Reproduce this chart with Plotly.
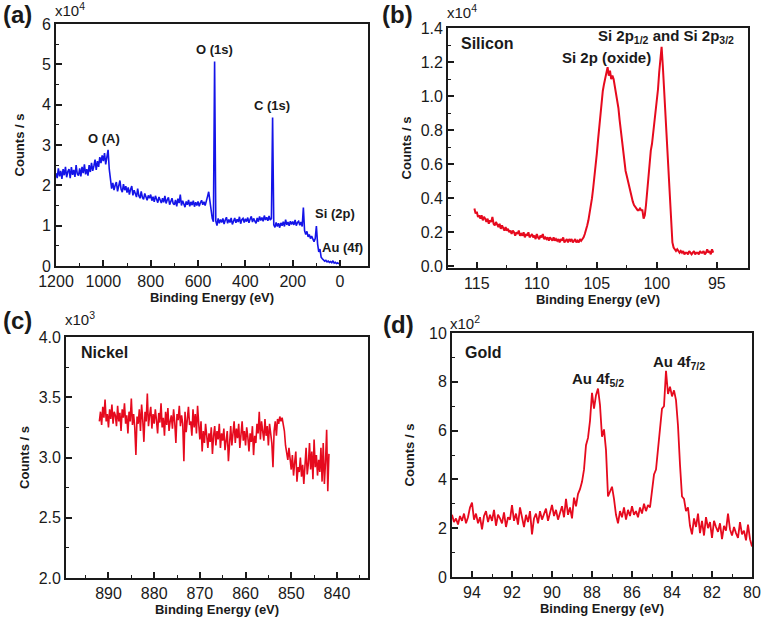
import numpy as np
import plotly.graph_objects as go

# ---------------- DATA ----------------
# (a) survey spectrum, Binding Energy from 1200 eV down in 5 eV steps, counts in units of 1e4
survey_start, survey_step = 1200.0, 5.0
survey_counts_e4 = [
    2.30, 2.18, 2.42, 2.22, 2.36, 2.16, 2.40, 2.25, 2.46, 2.20,
    2.34, 2.40, 2.18, 2.45, 2.26, 2.38, 2.21, 2.50, 2.28, 2.24,
    2.42, 2.22, 2.46, 2.30, 2.52, 2.27, 2.40, 2.24, 2.50, 2.33,
    2.56, 2.36, 2.48, 2.64, 2.38, 2.60, 2.46, 2.70, 2.55, 2.74,
    2.60, 2.80, 2.52, 2.75, 2.88, 2.40, 2.05, 1.92, 2.06, 1.88,
    2.00, 2.08, 1.85, 1.97, 2.12, 1.90, 1.83, 2.03, 1.88, 1.98,
    1.82, 1.95, 1.77, 1.90, 1.98, 1.75, 1.88, 1.80, 1.71, 1.92,
    1.74, 1.68, 1.85, 1.70, 1.65, 1.80, 1.73, 1.63, 1.75, 1.68,
    1.77, 1.62, 1.72, 1.59, 1.74, 1.64, 1.57, 1.71, 1.61, 1.56,
    1.68, 1.58, 1.74, 1.55, 1.64, 1.70, 1.52, 1.63, 1.68, 1.55,
    1.52, 1.64, 1.48, 1.67, 1.56, 1.77, 1.50, 1.62, 1.54, 1.46,
    1.60, 1.52, 1.64, 1.48, 1.59, 1.51, 1.62, 1.47, 1.58, 1.50,
    1.60, 1.48, 1.57, 1.63, 1.52, 1.59, 1.50, 1.66, 1.72, 1.84,
    1.60, 1.42, 1.18, 1.10, 5.07, 1.12, 1.00, 1.18, 1.06, 1.15,
    1.08, 1.18, 1.04, 1.14, 1.21, 1.06, 1.15, 1.08, 1.19, 1.03,
    1.14, 1.19, 1.07, 1.16, 1.09, 1.22, 1.05, 1.15, 1.18, 1.08,
    1.17, 1.10, 1.20, 1.07, 1.16, 1.23, 1.09, 1.18, 1.11, 1.06,
    1.19, 1.10, 1.23, 1.13, 1.20, 1.11, 1.25, 1.14, 1.21, 1.12,
    1.24, 1.14, 1.18, 3.68, 1.02, 0.96, 1.08, 0.98, 1.06, 0.95,
    1.07, 1.00, 1.10, 0.98, 1.15, 1.02, 1.09, 1.00, 1.11, 1.03,
    1.10, 1.02, 1.14, 1.00, 1.08, 1.11, 1.01, 1.09, 0.98, 1.45,
    0.88, 0.78, 0.86, 0.72, 0.78, 0.68, 0.74, 0.64, 0.60, 0.68,
    0.99, 0.55, 0.35, 0.42, 0.22, 0.18, 0.15, 0.12, 0.14, 0.10,
    0.12, 0.09, 0.11, 0.08, 0.13, 0.07, 0.09, 0.06, 0.08, 0.05,
]

# (b) Si 2p, from 115.2 eV down in 0.1 eV steps, counts in units of 1e4
si_start, si_step = 115.2, 0.1
si_counts_e4 = [
    0.34, 0.31, 0.32, 0.29, 0.30, 0.28, 0.30, 0.27, 0.29, 0.28,
    0.26, 0.28, 0.25, 0.27, 0.26, 0.29, 0.25, 0.24, 0.26, 0.24,
    0.23, 0.25, 0.22, 0.24, 0.22, 0.21, 0.23, 0.21, 0.22, 0.20,
    0.21, 0.19, 0.21, 0.20, 0.18, 0.20, 0.19, 0.21, 0.18, 0.19,
    0.18, 0.20, 0.17, 0.19, 0.18, 0.20, 0.17, 0.18, 0.19, 0.17,
    0.18, 0.16, 0.19, 0.17, 0.16, 0.18, 0.17, 0.19, 0.16, 0.17,
    0.16, 0.17, 0.15, 0.17, 0.16, 0.15, 0.17, 0.15, 0.16, 0.15,
    0.16, 0.14, 0.16, 0.15, 0.17, 0.14, 0.15, 0.16, 0.14, 0.16,
    0.15, 0.16, 0.14, 0.15, 0.16, 0.14, 0.15, 0.14, 0.16, 0.15,
    0.16, 0.17, 0.19, 0.21, 0.24, 0.27, 0.31, 0.35, 0.40, 0.46,
    0.52, 0.58, 0.66, 0.74, 0.82, 0.90, 0.97, 1.03, 1.07, 1.10,
    1.13, 1.17, 1.12, 1.15, 1.10, 1.12, 1.10, 1.06, 1.03, 0.98,
    0.93, 0.86, 0.80, 0.72, 0.66, 0.60, 0.56, 0.53, 0.50, 0.46,
    0.43, 0.41, 0.38, 0.36, 0.35, 0.34, 0.33, 0.33, 0.34, 0.33,
    0.33, 0.28, 0.30, 0.36, 0.44, 0.53, 0.62, 0.68, 0.72, 0.78,
    0.84, 0.90, 0.96, 1.04, 1.14, 1.24, 1.29, 1.18, 1.05, 0.92,
    0.78, 0.62, 0.47, 0.33, 0.22, 0.14, 0.11, 0.10, 0.09, 0.10,
    0.09, 0.08, 0.09, 0.08, 0.09, 0.07, 0.08, 0.08, 0.07, 0.09,
    0.08, 0.07, 0.08, 0.09, 0.07, 0.08, 0.08, 0.07, 0.09, 0.08,
    0.08, 0.09, 0.07, 0.08, 0.10, 0.08, 0.09, 0.07, 0.10, 0.08,
]

# (c) Ni 2p, from 892.0 eV down in 0.25 eV steps, counts in units of 1e3
ni_start, ni_step = 892.0, 0.25
ni_counts_e3 = [
    3.30, 3.38, 3.27, 3.42, 3.33, 3.48, 3.30, 3.36,
    3.25, 3.40, 3.32, 3.44, 3.28, 3.38, 3.35, 3.26,
    3.43, 3.30, 3.37, 3.22, 3.40, 3.33, 3.45, 3.28,
    3.35, 3.20, 3.38, 3.30, 3.49, 3.27, 3.36, 3.25,
    3.02, 3.34, 3.28, 3.40, 3.22, 3.44, 3.31, 3.13,
    3.38, 3.30, 3.53, 3.26, 3.35, 3.42, 3.24, 3.36,
    3.28, 3.40, 3.31, 3.20, 3.37, 3.29, 3.45, 3.25,
    3.33, 3.18, 3.38, 3.27, 3.41, 3.22, 3.30, 3.35,
    3.24, 3.40, 3.29, 3.12, 3.36, 3.31, 3.43, 3.26,
    3.35, 3.28, 2.97, 3.38, 3.21, 3.33, 3.42, 3.27,
    3.30, 3.18, 3.40, 3.25, 3.36, 3.20, 3.43, 3.28,
    3.15, 3.30, 3.05, 3.22, 3.12, 3.28, 3.18, 3.08,
    3.20, 3.13, 3.25, 3.03, 3.18, 3.26, 3.10, 3.22,
    3.15, 3.28, 3.08, 3.20, 3.14, 3.24, 3.06, 3.17,
    3.22, 2.97, 3.15, 3.26, 3.10, 3.20, 3.30, 3.12,
    3.24, 3.16, 3.28, 3.08, 3.20, 3.30, 3.14, 3.22,
    3.10, 3.25, 3.17, 3.05, 3.20, 3.13, 3.26, 3.02,
    3.18, 3.12, 3.28, 3.20, 3.38, 3.15, 3.30, 3.22,
    3.14, 3.32, 3.18, 3.26, 3.10, 3.28, 3.20, 3.12,
    2.92, 3.22, 3.30, 3.18, 3.32, 3.28, 3.34, 3.30,
    3.33, 3.26, 3.22, 3.10, 3.05, 2.98, 3.08, 2.95,
    2.90, 3.02, 2.85, 2.96, 3.05, 2.80, 2.92, 2.88,
    3.00, 2.84, 2.94, 2.78, 2.98, 3.08, 2.86, 2.95,
    3.12, 2.90, 3.05, 2.82, 3.15, 2.92, 3.02, 2.85,
    2.98, 2.88, 3.08, 2.80, 3.12, 2.78, 2.96, 3.23,
    2.72, 3.03,
]

# (d) Au 4f, from 95.0 eV down in 0.1 eV steps, counts in units of 1e2
au_start, au_step = 95.0, 0.1
au_counts_e2 = [
    2.55, 2.25, 2.40, 2.15, 2.50, 2.30, 2.60, 2.20, 2.45, 2.85,
    3.05, 2.35, 2.60, 2.20, 2.45, 1.95, 2.50, 2.70, 2.25, 2.55,
    2.30, 2.75, 2.10, 2.55, 2.40, 2.20, 2.65, 2.05, 2.45, 2.35,
    2.95, 2.30, 2.60, 2.15, 2.85, 2.40, 2.05, 2.55, 2.25, 2.70,
    1.75, 2.40, 2.60, 2.20, 2.70, 2.35, 2.55, 2.80, 2.30, 2.65,
    2.95, 2.50, 2.75, 2.35, 2.60, 2.90, 2.45, 3.20, 2.55, 2.85,
    2.40, 3.25, 2.90, 3.40, 3.60, 3.90, 4.40, 5.40, 5.70, 6.40,
    7.55, 6.90, 7.45, 7.72, 7.05, 5.75, 6.05, 5.20, 3.30, 3.50,
    3.70, 3.20, 2.55, 2.20, 2.70, 2.45, 2.85, 2.35, 2.75, 2.50,
    2.90, 2.55, 2.70, 2.45, 2.85, 2.60, 3.00, 2.70, 2.95, 2.85,
    3.50, 4.20, 4.40, 5.20, 6.20, 6.90, 7.00, 8.45, 7.50, 7.80,
    7.40, 7.65, 7.25, 6.20, 4.60, 3.30, 3.20, 2.70, 2.85, 2.10,
    1.75, 2.40, 2.05, 2.60, 1.80, 2.30, 1.70, 2.45, 2.00, 2.25,
    1.60, 2.30, 2.05, 1.85, 2.20, 1.55, 2.10, 1.90, 2.60, 1.95,
    1.70, 2.05, 1.80, 1.60, 2.25, 1.75, 1.90, 1.50, 2.15, 1.55,
    1.25,
]


def energies(start, step, values):
    return np.round(start - step * np.arange(len(values)), 3)


BLUE = "#1414e8"
RED = "#e60a1e"
INK = "#1a1a1a"
FONT = "Liberation Sans, Arial, sans-serif"

W, H = 761, 619


def dom(x0, x1, y0, y1):
    return [x0 / W, x1 / W], [1 - y1 / H, 1 - y0 / H]


fig = go.Figure()
fig.add_trace(go.Scatter(x=energies(survey_start, survey_step, survey_counts_e4), y=survey_counts_e4,
                         mode="lines", line=dict(color=BLUE, width=1.6), xaxis="x", yaxis="y", showlegend=False))
fig.add_trace(go.Scatter(x=energies(si_start, si_step, si_counts_e4), y=si_counts_e4,
                         mode="lines", line=dict(color=RED, width=2.0), xaxis="x2", yaxis="y2", showlegend=False))
fig.add_trace(go.Scatter(x=energies(ni_start, ni_step, ni_counts_e3), y=ni_counts_e3,
                         mode="lines", line=dict(color=RED, width=1.6), xaxis="x3", yaxis="y3", showlegend=False))
fig.add_trace(go.Scatter(x=energies(au_start, au_step, au_counts_e2), y=au_counts_e2,
                         mode="lines", line=dict(color=RED, width=1.8), xaxis="x4", yaxis="y4", showlegend=False))


def axis(domain, rng, tickvals, ticktext, minor_vals, anchor, title=None, standoff=None):
    d = dict(domain=domain, range=rng, anchor=anchor, showline=True, mirror=True, linecolor=INK,
             linewidth=1.8, ticks="inside", ticklen=6, tickwidth=1.5, tickcolor=INK,
             showgrid=False, zeroline=False, tickmode="array", tickvals=tickvals, ticktext=ticktext,
             tickfont=dict(family=FONT, size=16, color=INK), automargin=False,
             minor=dict(ticks="inside", ticklen=3.5, tickwidth=1.2, tickcolor=INK, tickvals=minor_vals,
                        showgrid=False))
    if title:
        d["title"] = dict(text="<b>%s</b>" % title, font=dict(family=FONT, size=13, color=INK),
                          standoff=standoff)
    return d


xa, ya = dom(56, 368, 24, 266)
xb, yb = dom(448, 748, 28, 268)
xc, yc = dom(66, 368, 337, 578)
xd, yd = dom(452, 752, 333, 577)

BE = "Binding Energy (eV)"
CS = "Counts / s"

fig.update_layout(
    width=W, height=H, autosize=False, margin=dict(l=0, r=0, t=0, b=0),
    paper_bgcolor="white", plot_bgcolor="white", font=dict(family=FONT, color=INK),
    xaxis=axis(xa, [1200, -118], list(range(0, 1201, 200)), [str(v) for v in range(0, 1201, 200)],
               list(range(100, 1200, 200)), "y", BE, 2),
    yaxis=axis(ya, [0, 6], list(range(0, 7)), [str(v) for v in range(0, 7)],
               [0.5 + i for i in range(6)], "x", CS, 14),
    xaxis2=axis(xb, [117.4, 92.4], [115, 110, 105, 100, 95], ["115", "110", "105", "100", "95"],
                [112.5, 107.5, 102.5, 97.5], "y2", BE, 2),
    yaxis2=axis(yb, [-0.01, 1.4], [0.2 * i for i in range(8)], ["%.1f" % (0.2 * i) for i in range(8)],
                [0.1 + 0.2 * i for i in range(7)], "x2", CS, 6),
    xaxis3=axis(xc, [899.3, 833.2], list(range(840, 901, 10)), [str(v) for v in range(840, 901, 10)],
                [845, 855, 865, 875, 885, 895, 835], "y3", BE, 2),
    yaxis3=axis(yc, [2.0, 4.0], [2.0, 2.5, 3.0, 3.5, 4.0], ["2.0", "2.5", "3.0", "3.5", "4.0"],
                [2.25, 2.75, 3.25, 3.75], "x3", CS, 6),
    xaxis4=axis(xd, [95, 80], list(range(80, 95, 2)), [str(v) for v in range(80, 95, 2)],
                list(range(81, 95, 2)), "y4", BE, 2),
    yaxis4=axis(yd, [0, 10], list(range(0, 11, 2)), [str(v) for v in range(0, 11, 2)],
                list(range(1, 10, 2)), "x4", CS, 12),
)

ann = []


def paper_text(text, px, py, size, bold=True, xanchor="center"):
    ann.append(dict(text=("<b>%s</b>" % text) if bold else text, x=px / W, y=1 - py / H,
                    xref="paper", yref="paper", xanchor=xanchor, yanchor="middle", showarrow=False,
                    font=dict(family=FONT, size=size, color=INK)))


def data_text(text, x, y, axn, size=13, xanchor="center"):
    ann.append(dict(text="<b>%s</b>" % text, x=x, y=y, xref="x" + axn, yref="y" + axn,
                    xanchor=xanchor, yanchor="middle", showarrow=False,
                    font=dict(family=FONT, size=size, color=INK)))


# panel letters
paper_text("(a)", 17, 15, 24)
paper_text("(b)", 397, 15, 24)
paper_text("(c)", 17, 320, 24)
paper_text("(d)", 398, 324, 24)
# scale factors
paper_text("x10<sup>4</sup>", 53, 10, 15, bold=False, xanchor="left")
paper_text("x10<sup>4</sup>", 445, 11, 15, bold=False, xanchor="left")
paper_text("x10<sup>3</sup>", 63, 318, 15, bold=False, xanchor="left")
paper_text("x10<sup>2</sup>", 448, 322, 15, bold=False, xanchor="left")

# peak labels
data_text("O (A)", 997, 3.17, "", 13)
data_text("O (1s)", 531, 5.38, "", 13)
data_text("C (1s)", 287, 3.99, "", 13)
data_text("Si (2p)", 114, 1.31, "", 13, "left")
data_text("Au (4f)", 85, 0.47, "", 13, "left")

data_text("Silicon", 116.5, 1.31, "2", 16, "left")
data_text("Si 2p (oxide)", 104.2, 1.225, "2", 15)
data_text("Si 2p<sub>1/2</sub> and Si 2p<sub>3/2</sub>", 99.27, 1.35, "2", 15)

data_text("Nickel", 896.4, 3.87, "3", 16, "left")

data_text("Gold", 94.43, 9.19, "4", 16, "left")
data_text("Au 4f<sub>5/2</sub>", 87.72, 8.08, "4", 15)
data_text("Au 4f<sub>7/2</sub>", 83.67, 8.78, "4", 15)

fig.update_layout(annotations=ann)

# remove the default 8px page margin so the figure fills the window exactly; hide the modebar
fig.write_html("out.html", config={"displayModeBar": False},
               post_script="document.body.style.margin='0';")
